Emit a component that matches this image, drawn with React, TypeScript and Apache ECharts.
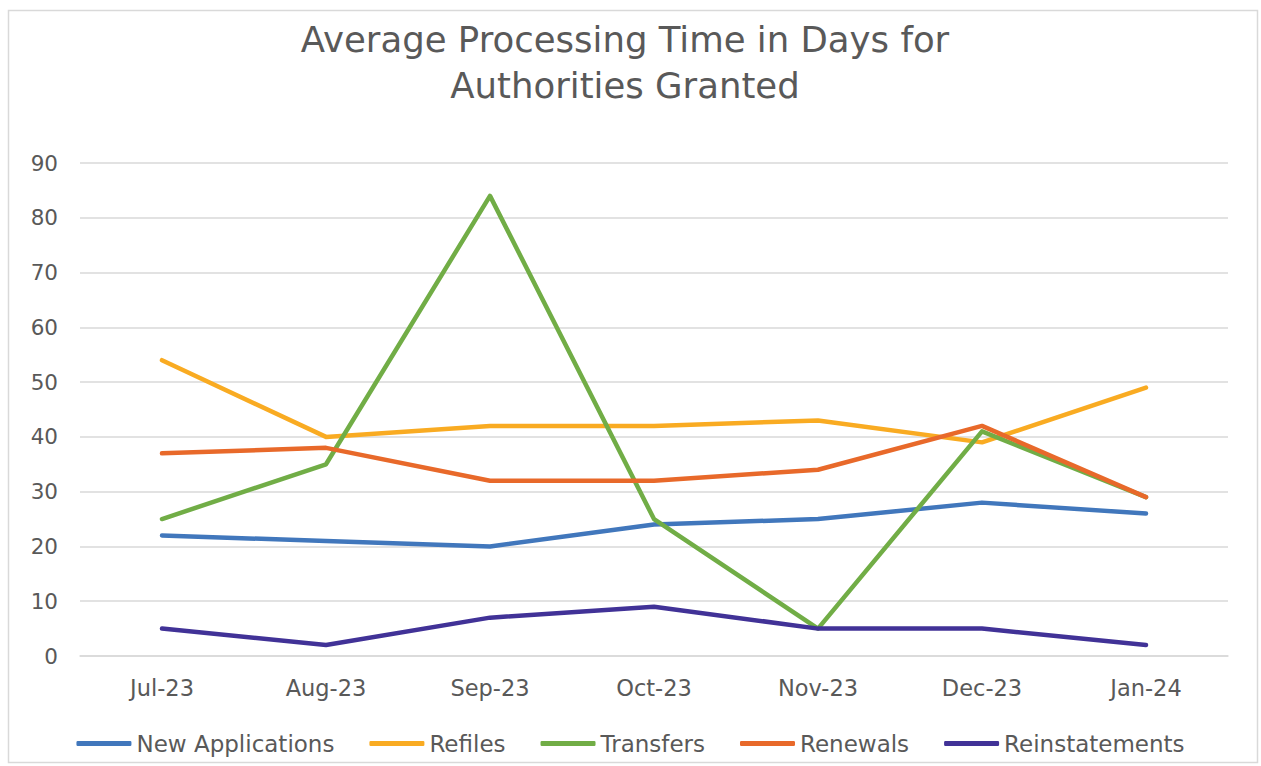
import React, { useEffect, useRef } from "react";
import * as echarts from "echarts";

const categories = ["Jul-23", "Aug-23", "Sep-23", "Oct-23", "Nov-23", "Dec-23", "Jan-24"];
const newApplications = [22, 21, 20, 24, 25, 28, 26];
const refiles = [54, 40, 42, 42, 43, 39, 49];
const transfers = [25, 35, 84, 25, 5, 41, 29];
const renewals = [37, 38, 32, 32, 34, 42, 29];
const reinstatements = [5, 2, 7, 9, 5, 5, 2];

const seriesDefs = [
  { name: "New Applications", data: newApplications, color: "#4177BC" },
  { name: "Refiles", data: refiles, color: "#F9AB22" },
  { name: "Transfers", data: transfers, color: "#71AD46" },
  { name: "Renewals", data: renewals, color: "#E8692A" },
  { name: "Reinstatements", data: reinstatements, color: "#413297" },
];

const FONT = "'DejaVu Sans', sans-serif";

export default function App() {
  const ref = useRef<HTMLDivElement>(null);
  useEffect(() => {
    if (!ref.current) return;
    const chart = echarts.init(ref.current, null, { renderer: "svg" });
    chart.setOption({
      animation: false,
      backgroundColor: "#ffffff",
      textStyle: { fontFamily: FONT, color: "#595959" },
      graphic: [
        {
          type: "rect",
          shape: { x: 8.5, y: 10.5, width: 1249, height: 752 },
          style: { fill: "none", stroke: "#D9D9D9", lineWidth: 1.5 },
          silent: true,
        },
      ],
      title: {
        text: "Average Processing Time in Days for\nAuthorities Granted",
        left: 620,
        textAlign: "center",
        top: 11,
        textStyle: {
          fontFamily: FONT,
          fontSize: 35.5,
          fontWeight: "normal",
          color: "#595959",
          lineHeight: 46,
        },
      },
      legend: {
        top: 727,
        left: "center",
        itemWidth: 55,
        itemHeight: 5,
        itemGap: 35,
        icon: "roundRect",
        textStyle: { fontFamily: FONT, fontSize: 23, color: "#595959" },
        data: seriesDefs.map((s) => s.name),
      },
      grid: { left: 80, right: 33, top: 163, bottom: 110, containLabel: false },
      xAxis: {
        type: "category",
        data: categories,
        boundaryGap: true,
        axisLine: { show: true, lineStyle: { color: "#D9D9D9", width: 1.5 } },
        axisTick: { show: false },
        axisLabel: { fontFamily: FONT, fontSize: 22.5, color: "#595959", margin: 20 },
      },
      yAxis: {
        type: "value",
        min: 0,
        max: 90,
        interval: 10,
        axisLine: { show: false },
        axisTick: { show: false },
        splitLine: { lineStyle: { color: "#D9D9D9", width: 1.5 } },
        axisLabel: { fontFamily: FONT, fontSize: 21.5, color: "#595959", margin: 22 },
      },
      series: seriesDefs.map((s) => ({
        name: s.name,
        type: "line",
        data: s.data,
        symbol: "none",
        lineStyle: { color: s.color, width: 4.5, cap: "round", join: "round" },
        itemStyle: { color: s.color },
      })),
    });
    return () => chart.dispose();
  }, []);
  return (
    <div
      ref={ref}
      style={{ position: "fixed", left: 0, top: 0, width: 1261, height: 766 }}
    />
  );
}
